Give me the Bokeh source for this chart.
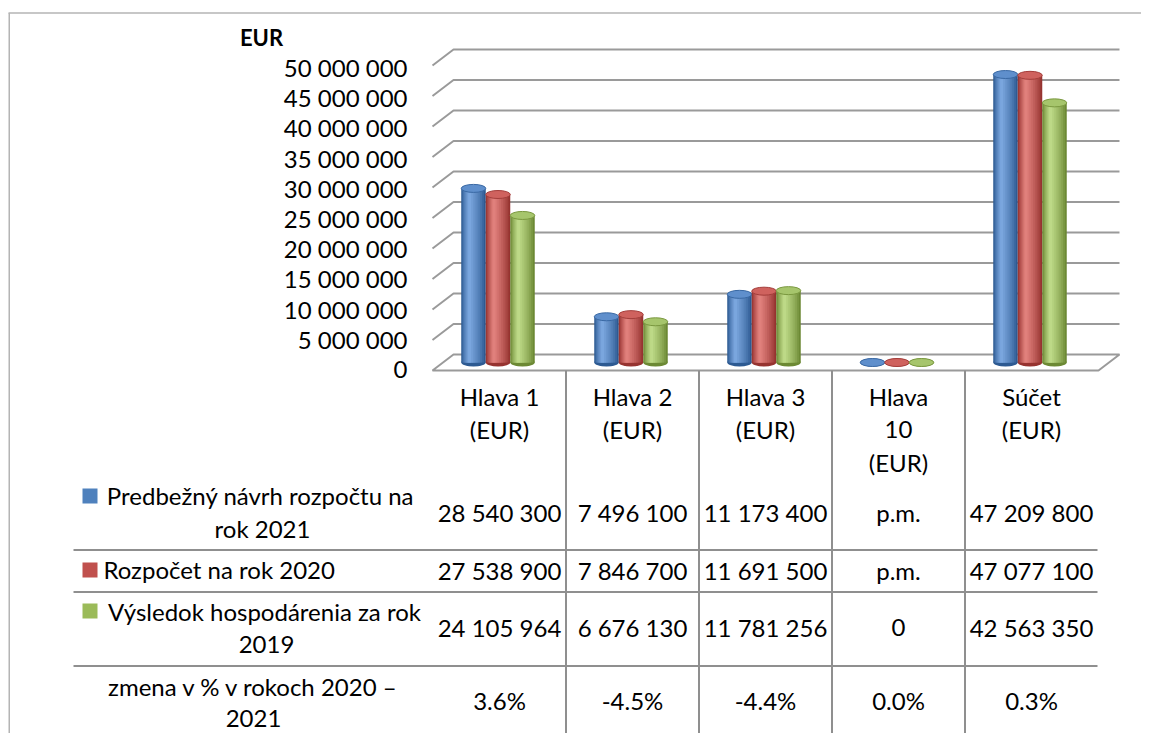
from bokeh.plotting import figure
from bokeh.models import Range1d
from bokeh.core.properties import value
from bokeh.embed import file_html
from bokeh.resources import INLINE

# ---------------- data ----------------
CATEGORY_LINES = [["Hlava 1", "(EUR)"], ["Hlava 2", "(EUR)"], ["Hlava 3", "(EUR)"],
                  ["Hlava", "10", "(EUR)"], ["Súčet", "(EUR)"]]
SERIES_LABELS = [["Predbežný návrh rozpočtu na", "rok 2021"],
                 ["Rozpočet na rok 2020"],
                 ["Výsledok hospodárenia za rok", "2019"]]
PREDBEZNY_2021 = [28540300, 7496100, 11173400, 0, 47209800]
ROZPOCET_2020 = [27538900, 7846700, 11691500, 0, 47077100]
VYSLEDOK_2019 = [24105964, 6676130, 11781256, 0, 42563350]
TABLE_PREDBEZNY = ["28 540 300", "7 496 100", "11 173 400", "p.m.", "47 209 800"]
TABLE_ROZPOCET = ["27 538 900", "7 846 700", "11 691 500", "p.m.", "47 077 100"]
TABLE_VYSLEDOK = ["24 105 964", "6 676 130", "11 781 256", "0", "42 563 350"]
CHANGE_LABEL = ["zmena v % v rokoch 2020 –", "2021"]
CHANGE_PCT = ["3.6%", "-4.5%", "-4.4%", "0.0%", "0.3%"]
Y_TICKS = [0, 5000000, 10000000, 15000000, 20000000, 25000000,
           30000000, 35000000, 40000000, 45000000, 50000000]
Y_TICK_LABELS = ["0", "5 000 000", "10 000 000", "15 000 000", "20 000 000", "25 000 000",
                 "30 000 000", "35 000 000", "40 000 000", "45 000 000", "50 000 000"]
Y_TITLE = "EUR"

# ---------------- layout helpers (pixel geometry of the page) ----------------
W, H = 1141, 733
OX, OY = 0, 0
CAT_X0, CAT_STEP = 499.0, 133.0
ZERO_Y = 362.0
PX_PER_EUR = 6.1 / 1e6

def px(x_img):
    return (x_img - CAT_X0) / CAT_STEP

def py(y_img):
    return (ZERO_Y - y_img) / PX_PER_EUR

def pw(w):
    return w / CAT_STEP

def ph(h):
    return h / PX_PER_EUR

def mix(c1, c2, t):
    a = [int(c1[i:i + 2], 16) for i in (1, 3, 5)]
    b = [int(c2[i:i + 2], 16) for i in (1, 3, 5)]
    return "#%02x%02x%02x" % tuple(int(round(a[k] + (b[k] - a[k]) * t)) for k in range(3))

FONT = value("Lato")
FS = "24px"
GRID_COLOR = "#9a9a9a"
TABLE_COLOR = "#8f8f8f"

p = figure(width=W, height=H, output_backend="svg", toolbar_location=None,
           x_range=Range1d(px(OX), px(OX + W)), y_range=Range1d(py(OY + H), py(OY)),
           x_axis_type=None, y_axis_type=None, min_border=0)
p.grid.visible = False
p.outline_line_color = None
p.background_fill_color = "white"

# outer border (top and left only)
p.line([px(8), px(OX + W)], [py(12.5), py(12.5)], line_color="#b4b4b4", line_width=1.5)
p.line([px(8.75), px(8.75)], [py(12.5), py(OY + H)], line_color="#b4b4b4", line_width=1.5)

# ---------------- 3D walls ----------------
BACK_ZERO, FRONT_ZERO = 354.0, 370.0
LEFT_FRONT, LEFT_BACK, RIGHT_BACK, RIGHT_FRONT = 432.0, 453.0, 1119.0, 1098.0
gx, gy = [], []
for v in Y_TICKS[1:]:
    yb = BACK_ZERO - v * PX_PER_EUR
    gx.append([px(LEFT_FRONT), px(LEFT_BACK), px(RIGHT_BACK)])
    gy.append([py(yb + 16), py(yb), py(yb)])
p.multi_line(gx, gy, line_color=GRID_COLOR, line_width=2)
p.patch([px(LEFT_FRONT), px(RIGHT_FRONT), px(RIGHT_BACK), px(LEFT_BACK)],
        [py(FRONT_ZERO), py(FRONT_ZERO), py(BACK_ZERO), py(BACK_ZERO)],
        fill_color="white", line_color=GRID_COLOR, line_width=2)

# ---------------- cylinders ----------------
series = [PREDBEZNY_2021, ROZPOCET_2020, VYSLEDOK_2019]
palettes = [
    dict(edge="#2d5a92", hi="#7aa6de", top="#5f8fcc", rim="#3a69a4", key="#4f81bd"),
    dict(edge="#963330", hi="#e0807c", top="#cf625e", rim="#a43e3b", key="#c0504d"),
    dict(edge="#6c8934", hi="#bdd987", top="#a6c56c", rim="#7a983f", key="#9bbb59"),
]
BAR_W = pw(24.5)
ELL_H = ph(8)
N_BANDS = 9
n = len(PREDBEZNY_2021)
for s_idx, (vals, pal) in enumerate(zip(series, palettes)):
    xs = [i - pw(1.5) + (s_idx - 1) * BAR_W for i in range(n)]
    zeros = [0] * n
    p.ellipse(x=xs, y=zeros, width=BAR_W, height=ELL_H, fill_color=pal["edge"], line_color=None)
    for b in range(N_BANDS):
        t = b / (N_BANDS - 1)
        frac = 1.0 - 0.88 * t
        shift = -0.16 * t * BAR_W
        p.vbar(x=[x + shift for x in xs], bottom=0, top=vals, width=BAR_W * frac,
               fill_color=mix(pal["edge"], pal["hi"], t ** 0.8), line_color=None)
    p.ellipse(x=xs, y=vals, width=BAR_W, height=ELL_H, fill_color=pal["top"],
              line_color=pal["rim"], line_width=1)

# ---------------- y tick labels ----------------
p.text(x=[px(407)] * len(Y_TICKS),
       y=[py(369 - v * (302 / 50e6)) for v in Y_TICKS],
       text=Y_TICK_LABELS, text_font=FONT, text_font_size=FS, text_color="black",
       text_align="right", text_baseline="middle")
p.text(x=[px(261)], y=[py(37)], text=[Y_TITLE], text_font=FONT, text_font_size="22px",
       text_font_style="bold", text_color="black", text_align="center", text_baseline="middle")

# ---------------- data table ----------------
col_x = [CAT_X0 + CAT_STEP * i for i in range(n)]
for i in range(n - 1):
    xl = CAT_X0 + CAT_STEP * (i + 0.5)
    p.line([px(xl), px(xl)], [py(370), py(738)], line_color=TABLE_COLOR, line_width=2)
for yl in [549.5, 591.5, 665.5]:
    p.line([px(73), px(1097)], [py(yl), py(yl)], line_color=TABLE_COLOR, line_width=2)

hx, hy, ht = [], [], []
for i, lines in enumerate(CATEGORY_LINES):
    for j, t in enumerate(lines):
        hx.append(px(col_x[i])); hy.append(py(396 + 33 * j)); ht.append(t)
p.text(x=hx, y=hy, text=ht, text_font=FONT, text_font_size=FS, text_color="black",
       text_align="center", text_baseline="middle")

rows = [TABLE_PREDBEZNY, TABLE_ROZPOCET, TABLE_VYSLEDOK, CHANGE_PCT]
row_y = [512, 570, 627, 700]
vx, vy, vt = [], [], []
for r, yv in zip(rows, row_y):
    for i, t in enumerate(r):
        vx.append(px(col_x[i])); vy.append(py(yv)); vt.append(t)
p.text(x=vx, y=vy, text=vt, text_font=FONT, text_font_size=FS, text_color="black",
       text_align="center", text_baseline="middle")

lab = [
    (SERIES_LABELS[0][0], 260, 495, "center"), (SERIES_LABELS[0][1], 262, 528, "center"),
    (SERIES_LABELS[1][0], 103, 569, "left"),
    (SERIES_LABELS[2][0], 264, 611, "center"), (SERIES_LABELS[2][1], 266, 644, "center"),
    (CHANGE_LABEL[0], 253, 686, "center"), (CHANGE_LABEL[1], 253, 718, "center"),
]
for t, xl, yl, al in lab:
    p.text(x=[px(xl)], y=[py(yl)], text=[t], text_font=FONT, text_font_size=FS,
           text_color="black", text_align=al, text_baseline="middle")

p.scatter(x=[px(89.5)] * 3, y=[py(495.5), py(569.5), py(610.5)], marker="square", size=15,
          fill_color=[pal["key"] for pal in palettes], line_color=None)

open("out.html", "w").write(file_html(p, INLINE))
